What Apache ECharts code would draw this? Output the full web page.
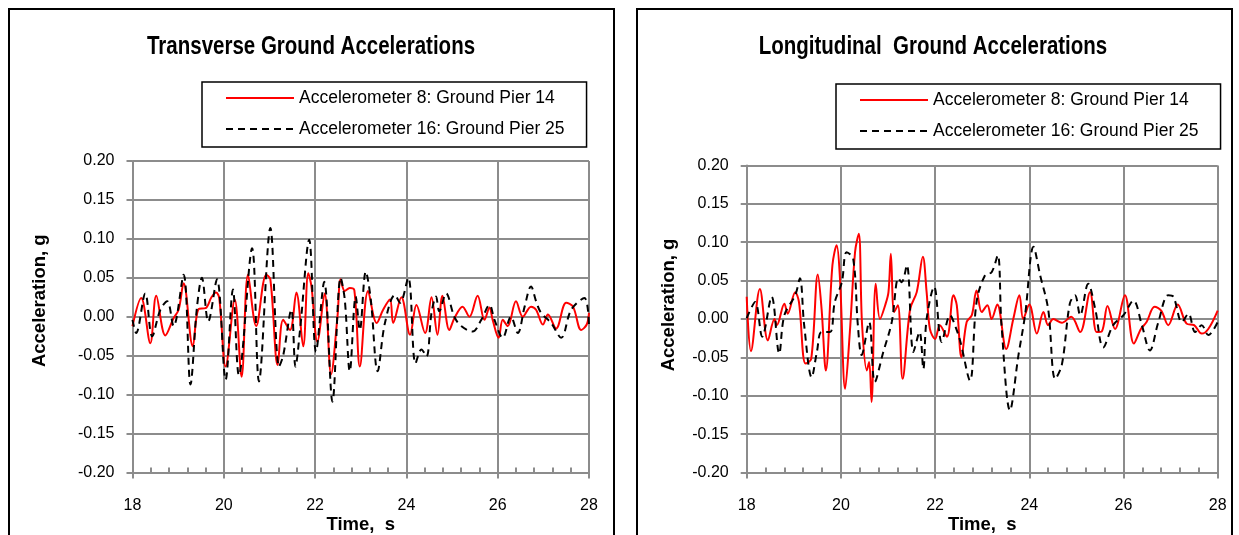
<!DOCTYPE html>
<html>
<head>
<meta charset="utf-8">
<script src="https://cdn.jsdelivr.net/npm/echarts@6/dist/echarts.min.js"></script>
<style>
html, body { margin: 0; padding: 0; background: #fff; }
#chart { width: 1239px; height: 535px; }
</style>
</head>
<body>
<div id="chart"></div>
<script>
const seriesNames = ['Accelerometer 8: Ground Pier 14', 'Accelerometer 16: Ground Pier 25'];
const titles = ['Transverse Ground Accelerations', 'Longitudinal  Ground Accelerations'];
const timeRange = [18, 28];
const accRange = [-0.2, 0.2];

// [time s, acceleration g] (peaks and troughs)
const transAcc8 = [[18.00,-0.012],[18.19,0.024],[18.39,-0.034],[18.52,0.027],[18.72,-0.024],[18.90,-0.002],[19.01,0.009],[19.12,0.043],[19.32,-0.038],[19.45,0.010],[19.60,0.011],[19.73,0.025],[19.83,0.031],[19.90,0.024],[20.04,-0.064],[20.24,0.022],[20.39,-0.077],[20.53,0.054],[20.71,-0.012],[20.93,0.054],[21.02,0.048],[21.18,-0.062],[21.30,-0.004],[21.45,-0.017],[21.59,0.031],[21.74,-0.038],[21.85,0.056],[21.92,0.039],[22.05,-0.032],[22.21,0.030],[22.35,-0.074],[22.49,0.000],[22.56,0.048],[22.65,0.033],[22.76,0.037],[22.86,0.034],[22.98,-0.064],[23.16,0.033],[23.35,-0.008],[23.49,0.009],[23.64,0.022],[23.71,-0.008],[23.89,0.025],[24.08,-0.023],[24.22,0.015],[24.41,-0.021],[24.55,0.025],[24.68,-0.023],[24.79,0.027],[24.94,-0.017],[25.05,-0.002],[25.23,0.013],[25.38,0.000],[25.56,0.027],[25.71,-0.004],[25.82,0.012],[25.89,-0.004],[26.02,-0.027],[26.11,-0.004],[26.22,-0.012],[26.40,0.020],[26.55,0.000],[26.73,0.013],[26.84,0.009],[26.99,-0.010],[27.10,0.003],[27.28,-0.015],[27.50,0.018],[27.65,0.013],[27.83,-0.017],[27.95,-0.010],[28.00,0.005]];
const transAcc16 = [[18.00,-0.004],[18.08,-0.021],[18.28,0.030],[18.43,-0.025],[18.61,0.009],[18.76,0.020],[18.90,-0.012],[19.12,0.054],[19.27,-0.087],[19.41,0.011],[19.52,0.050],[19.66,-0.006],[19.85,0.048],[20.04,-0.081],[20.20,0.035],[20.33,-0.075],[20.62,0.088],[20.77,-0.083],[21.02,0.114],[21.21,-0.064],[21.30,-0.050],[21.48,0.009],[21.57,-0.064],[21.67,-0.017],[21.87,0.099],[22.02,-0.045],[22.20,0.045],[22.38,-0.109],[22.56,0.050],[22.65,0.022],[22.76,-0.070],[22.89,0.026],[22.98,-0.017],[23.11,0.058],[23.22,0.022],[23.37,-0.070],[23.53,-0.008],[23.75,0.028],[23.86,0.018],[24.04,0.050],[24.20,-0.060],[24.33,-0.042],[24.44,-0.051],[24.55,0.005],[24.65,0.026],[24.72,0.007],[24.87,0.030],[25.05,0.000],[25.20,-0.012],[25.45,-0.019],[25.64,-0.004],[25.82,0.015],[25.93,-0.004],[26.11,-0.027],[26.29,0.000],[26.44,-0.021],[26.59,0.013],[26.73,0.039],[26.84,0.020],[26.95,0.005],[27.17,-0.008],[27.39,-0.027],[27.61,0.009],[27.90,0.024],[28.00,-0.012]];
const longAcc8 = [[18.00,0.029],[18.09,-0.042],[18.28,0.039],[18.45,-0.028],[18.59,0.000],[18.64,-0.008],[18.80,0.020],[18.87,0.007],[19.03,0.035],[19.11,0.022],[19.25,-0.058],[19.37,-0.052],[19.51,0.058],[19.59,0.013],[19.68,-0.067],[19.82,0.070],[19.91,0.096],[19.98,0.053],[20.09,-0.091],[20.19,-0.017],[20.30,0.087],[20.38,0.111],[20.45,-0.008],[20.55,-0.067],[20.60,-0.056],[20.65,-0.108],[20.74,0.046],[20.83,0.000],[20.94,0.018],[21.01,0.035],[21.06,0.085],[21.13,0.009],[21.21,0.018],[21.31,-0.078],[21.47,0.013],[21.61,0.035],[21.74,0.081],[21.82,0.035],[21.89,-0.013],[22.00,-0.026],[22.10,-0.008],[22.25,-0.023],[22.39,0.031],[22.46,0.018],[22.56,-0.050],[22.67,-0.004],[22.78,0.005],[22.88,0.037],[22.99,0.009],[23.11,0.018],[23.20,0.000],[23.32,0.019],[23.51,-0.039],[23.66,0.000],[23.79,0.031],[23.87,0.000],[24.00,0.019],[24.16,-0.019],[24.30,0.009],[24.40,-0.008],[24.51,0.000],[24.69,-0.005],[24.89,0.003],[25.08,-0.017],[25.29,0.035],[25.43,-0.017],[25.54,-0.016],[25.66,0.017],[25.82,-0.013],[26.03,0.031],[26.22,-0.032],[26.37,-0.013],[26.49,-0.004],[26.66,0.016],[26.80,0.011],[26.95,-0.008],[27.15,0.019],[27.34,-0.006],[27.50,-0.008],[27.66,-0.019],[27.80,-0.013],[28.00,0.011]];
const longAcc16 = [[18.00,0.001],[18.18,0.022],[18.33,-0.023],[18.53,0.029],[18.69,-0.045],[18.80,0.005],[19.03,0.031],[19.13,0.053],[19.22,-0.008],[19.38,-0.076],[19.49,-0.043],[19.59,-0.017],[19.77,-0.017],[19.87,0.022],[20.02,0.048],[20.12,0.087],[20.26,0.079],[20.36,-0.008],[20.44,-0.047],[20.60,-0.004],[20.72,-0.082],[20.90,-0.043],[21.08,-0.004],[21.22,0.053],[21.29,0.048],[21.40,0.070],[21.54,-0.043],[21.67,-0.017],[21.75,-0.065],[21.82,0.000],[21.98,0.042],[22.14,-0.030],[22.32,0.005],[22.42,-0.008],[22.53,-0.028],[22.74,-0.080],[22.88,0.022],[23.06,0.057],[23.20,0.061],[23.33,0.083],[23.41,-0.008],[23.59,-0.119],[23.77,-0.047],[23.91,0.005],[24.09,0.094],[24.23,0.057],[24.40,0.013],[24.55,-0.078],[24.69,-0.060],[24.86,0.020],[24.97,0.031],[25.08,0.005],[25.25,0.046],[25.40,0.013],[25.57,-0.037],[25.78,-0.008],[26.00,0.005],[26.21,0.024],[26.39,-0.008],[26.56,-0.041],[26.74,-0.004],[26.95,0.031],[27.06,0.029],[27.24,-0.004],[27.38,0.007],[27.52,-0.017],[27.66,-0.008],[27.80,-0.021],[28.00,-0.004]];

const FONT = "'Liberation Sans', Arial, sans-serif";
const GRID_COLOR = '#8c8c8c';

const axisLineStyle = { color: GRID_COLOR, width: 2 };
const nameStyle = { fontFamily: FONT, fontWeight: 'bold', fontSize: 18.5, color: '#000' };
const labelStyle = { fontFamily: FONT, fontSize: 16, color: '#000' };

function yAxisFor(gridIndex, nameGap, nameShift) {
    return {
        type: 'value', gridIndex: gridIndex,
        min: accRange[0], max: accRange[1], interval: 0.05,
        name: 'Acceleration, g', nameLocation: 'middle', nameGap: nameGap, nameRotate: 90,
        nameMoveOverlap: false,
        nameTextStyle: Object.assign({ padding: [0, 0, 0, nameShift] }, nameStyle),
        axisLine: { show: true, onZero: false, lineStyle: axisLineStyle },
        axisTick: { show: true, length: 6, lineStyle: axisLineStyle },
        axisLabel: Object.assign({ margin: 18, formatter: (v) => Math.abs(v) < 1e-9 ? '0.00' : v.toFixed(2) }, labelStyle),
        splitLine: { show: true, lineStyle: axisLineStyle },
    };
}

function xAxisFor(gridIndex) {
    return {
        type: 'value', gridIndex: gridIndex, position: 'bottom',
        min: timeRange[0], max: timeRange[1], interval: 2,
        name: 'Time,  s', nameLocation: 'middle', nameGap: 43,
        nameMoveOverlap: false,
        nameTextStyle: nameStyle,
        axisLine: { show: true, onZero: false, lineStyle: axisLineStyle },
        axisTick: { show: true, length: 6, lineStyle: axisLineStyle },
        axisLabel: Object.assign({ margin: 25 }, labelStyle),
        splitLine: { show: true, lineStyle: axisLineStyle },
    };
}

// second x axis only for the small inside ticks every 0.4 s
function minorXAxisFor(gridIndex) {
    return {
        type: 'value', gridIndex: gridIndex, position: 'bottom',
        min: timeRange[0], max: timeRange[1], interval: 0.4,
        axisLine: { show: false, onZero: false },
        axisTick: { show: true, inside: true, length: 5, lineStyle: axisLineStyle },
        axisLabel: { show: false },
        splitLine: { show: false },
    };
}

function lineSeries(name, data, xi, yi, dashed) {
    return {
        name: name, type: 'line', xAxisIndex: xi, yAxisIndex: yi,
        data: data, symbol: 'none', showSymbol: false, smooth: 0.35,
        lineStyle: { color: dashed ? '#000' : '#ff0000', width: 2, type: dashed ? [7, 5] : 'solid' },
        itemStyle: { color: dashed ? '#000' : '#ff0000' },
    };
}

function legendAt(left, top) {
    return {
        left: left, top: top, orient: 'vertical', data: seriesNames,
        selectedMode: false,
        padding: [5, 22, 7, 23], itemGap: 9, itemWidth: 68, itemHeight: 14,
        itemStyle: { opacity: 0 },
        borderColor: '#000', borderWidth: 1.5, backgroundColor: '#fff',
        textStyle: { fontFamily: FONT, fontSize: 17.5, color: '#000', lineHeight: 22 },
    };
}

function titleText(x, text) {
    return {
        type: 'text', silent: true, x: x, y: 47, scaleX: 0.82,
        style: { text: text, fontFamily: FONT, fontWeight: 'bold', fontSize: 25, fill: '#000', align: 'center', verticalAlign: 'middle' },
    };
}

const chart = echarts.init(document.getElementById('chart'));
chart.setOption({
    animation: false,
    backgroundColor: '#fff',
    grid: [
        { left: 132.5, top: 161, width: 456.5, height: 311.5, outerBoundsMode: 'none', containLabel: false },
        { left: 746.7, top: 165.5, width: 471, height: 307, outerBoundsMode: 'none', containLabel: false },
    ],
    xAxis: [xAxisFor(0), minorXAxisFor(0), xAxisFor(1), minorXAxisFor(1)],
    yAxis: [yAxisFor(0, 83, 32), yAxisFor(1, 68, 28)],
    legend: [legendAt(202, 82), legendAt(836, 84)],
    graphic: [
        { type: 'rect', silent: true, shape: { x: 9, y: 9, width: 605, height: 560 }, style: { fill: 'none', stroke: '#000', lineWidth: 2 } },
        { type: 'rect', silent: true, shape: { x: 637, y: 9, width: 595, height: 560 }, style: { fill: 'none', stroke: '#000', lineWidth: 2 } },
        titleText(311, titles[0]),
        titleText(933, titles[1]),
    ],
    series: [
        lineSeries(seriesNames[0], transAcc8, 0, 0, false),
        lineSeries(seriesNames[1], transAcc16, 0, 0, true),
        lineSeries(seriesNames[0], longAcc8, 2, 1, false),
        lineSeries(seriesNames[1], longAcc16, 2, 1, true),
    ],
});
</script>
</body>
</html>
